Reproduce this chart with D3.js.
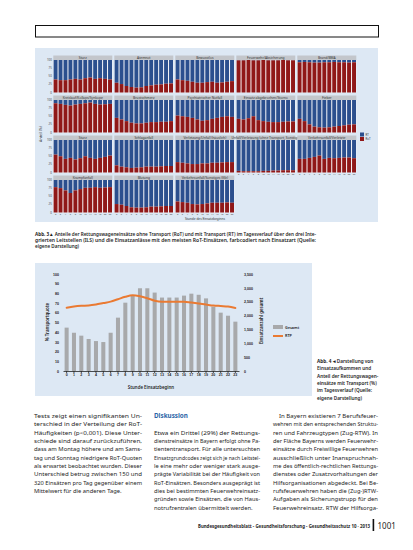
<!DOCTYPE html>
<html><head><meta charset="utf-8">
<script src="https://cdn.jsdelivr.net/npm/d3@7"></script>
<style>
html,body{margin:0;padding:0;background:#fff;}
svg{display:block;font-family:"Noto Sans","Open Sans",sans-serif;}
</style></head><body>
<svg id="page" width="413" height="550"></svg>
<script>
// ---------- DATA: Abb. 3 (facets) ----------
const facetLabels = [
  "Sturz", "Atemnot", "Bewusstlos", "Feuerwehr/Absicherung", "Brand/BMA",
  "Kreislauf/Kollaps/Synkope", "Brustschmerz", "Psychiatrischer Notfall", "Einsatz abgebrochen/Storno", "Fieber",
  "Sturz", "Schlaganfall", "Verletzung/Unfall (häuslich)", "Unfall/Verletzung (ohne Transport, Sonstige)", "Verkehrsunfall/Verletzte",
  "Krampfanfall", "Blutung", "Verkehrsunfall/Sonstiges (Kfz)"
];
const binHours = [0, 2, 4, 6, 8, 10, 12, 14, 16, 18, 20, 22];
const red01 = [0.40,0.38,0.38,0.40,0.42,0.40,0.44,0.46,0.42,0.44,0.42,0.40];
const red02 = [0.30,0.26,0.20,0.17,0.15,0.16,0.20,0.22,0.24,0.25,0.27,0.28];
const red03 = [0.40,0.38,0.36,0.33,0.30,0.30,0.32,0.33,0.30,0.31,0.33,0.35];
const red04 = [0.99,0.99,1.00,0.99,0.99,1.00,0.99,0.99,0.99,1.00,0.99,0.99];
const red05 = [0.93,0.94,0.93,0.92,0.92,0.93,0.93,0.94,0.93,0.93,0.92,0.93];
const red06 = [0.90,0.88,0.85,0.83,0.86,0.88,0.90,0.92,0.88,0.86,0.87,0.88];
const red07 = [0.45,0.40,0.35,0.30,0.28,0.28,0.30,0.32,0.32,0.33,0.33,0.35];
const red08 = [0.52,0.50,0.48,0.45,0.40,0.36,0.38,0.42,0.45,0.48,0.50,0.48];
const red09 = [0.42,0.40,0.44,0.50,0.38,0.35,0.33,0.32,0.32,0.33,0.34,0.34];
const red10 = [0.42,0.35,0.25,0.18,0.16,0.15,0.16,0.18,0.20,0.22,0.24,0.25];
const red11 = [0.55,0.50,0.42,0.45,0.40,0.44,0.50,0.45,0.42,0.45,0.48,0.52];
const red12 = [0.22,0.18,0.16,0.14,0.15,0.16,0.18,0.18,0.18,0.19,0.20,0.20];
const red13 = [0.32,0.30,0.28,0.26,0.26,0.28,0.28,0.30,0.30,0.31,0.32,0.32];
const red14 = [0.05,0.04,0.04,0.04,0.04,0.05,0.05,0.06,0.06,0.07,0.07,0.07];
const red15 = [0.42,0.42,0.45,0.48,0.52,0.42,0.45,0.44,0.45,0.46,0.46,0.44];
const red16 = [0.78,0.75,0.68,0.60,0.68,0.72,0.76,0.76,0.78,0.76,0.77,0.78];
const red17 = [0.26,0.24,0.20,0.16,0.15,0.15,0.16,0.18,0.18,0.19,0.20,0.20];
const red18 = [0.34,0.32,0.30,0.26,0.25,0.26,0.28,0.30,0.30,0.30,0.31,0.30];
const facetRed = [red01,red02,red03,red04,red05,red06,red07,red08,red09,red10,
                  red11,red12,red13,red14,red15,red16,red17,red18];
const facetYTicks = [0, 25, 50, 75, 100];
const facetLegend = ["RT", "RoT"];

// ---------- DATA: Abb. 4 (bars + line) ----------
const hours = [0,1,2,3,4,5,6,7,8,9,10,11,12,13,14,15,16,17,18,19,20,21,22,23];
const totalMissions = [1565,1380,1275,1155,1080,1045,1380,1925,2465,2740,2985,2985,
                       2830,2650,2650,2650,2720,2790,2750,2620,2320,2105,1995,1780];
const transportRate = [65.3,66.5,67.2,67.5,68.5,70.0,71.5,74.0,76.5,78.0,77.0,75.0,
                       72.5,71.5,71.5,71.5,71.5,70.5,69.5,68.5,67.5,67.0,66.5,65.0];
const leftTicks = [0,10,20,30,40,50,60,70,80,90,100];
const rightTicks = [0,500,1000,1500,2000,2500,3000,3500];
const legend4 = ["Gesamt", "RTP"];

// ---------- TEXT ----------
const caption3 = [
  ["Abb. 3 ▴ ", "Anteile der Rettungswageneinsätze ohne Transport (RoT) und mit Transport (RT) im Tagesverlauf über den drei Inte-"],
  ["", "grierten Leitstellen (ILS) und die Einsatzanlässe mit den meisten RoT-Einsätzen, farbcodiert nach Einsatzart (Quelle:"],
  ["", "eigene Darstellung)"]
];
const caption4 = [
  ["Abb. 4 ◂ ", "Darstellung von"],
  ["", "Einsatzaufkommen und"],
  ["", "Anteil der Rettungswagen-"],
  ["", "einsätze mit Transport (%)"],
  ["", "im Tagesverlauf (Quelle:"],
  ["", "eigene Darstellung)"]
];
const col1 = [
  "Tests zeigt einen signifikanten Un-",
  "terschied in der Verteilung der RoT-",
  "Häufigkeiten (p<0,001). Diese Unter-",
  "schiede sind darauf zurückzuführen,",
  "dass am Montag höhere und am Sams-",
  "tag und Sonntag niedrigere RoT-Quoten",
  "als erwartet beobachtet wurden. Dieser",
  "Unterschied betrug zwischen 150 und",
  "320 Einsätzen pro Tag gegenüber einem",
  "Mittelwert für die anderen Tage."
];
const heading2 = "Diskussion";
const col2 = [
  "Etwa ein Drittel (29%) der Rettungs-",
  "dienstreinsätze in Bayern erfolgt ohne Pa-",
  "tiententransport. Für alle untersuchten",
  "Einsatzgrundcodes zeigt sich je nach Leitstel-",
  "le eine mehr oder weniger stark ausge-",
  "prägte Variabilität bei der Häufigkeit von",
  "RoT-Einsätzen. Besonders ausgeprägt ist",
  "dies bei bestimmten Feuerwehreinsatz-",
  "gründen sowie Einsätzen, die von Haus-",
  "notrufzentralen übermittelt werden."
];
const col3 = [
  "In Bayern existieren 7 Berufsfeuer-",
  "wehren mit den entsprechenden Struktu-",
  "ren und Fahrzeugtypen (Zug-RTW). In",
  "der Fläche Bayerns werden Feuerwehr-",
  "einsätze durch Freiwillige Feuerwehren",
  "ausschließlich unter Inanspruchnah-",
  "me des öffentlich-rechtlichen Rettungs-",
  "dienstes oder Zusatzvorhaltungen der",
  "Hilfsorganisationen abgedeckt. Bei Be-",
  "rufsfeuerwehren haben die (Zug-)RTW-",
  "Aufgaben als Sicherungstrupp für den",
  "Feuerwehreinsatz. RTW der Hilfsorga-"
];
const footerText = "Bundesgesundheitsblatt - Gesundheitsforschung - Gesundheitsschutz 10 · 2013";
const pageNumber = "1001";

// ---------- DRAW ----------
const svg = d3.select("#page");
const RED = "#901818", BLUE = "#2b4f8e", BG = "#dde8f4", INK = "#1e1e1e";

// top box
svg.append("rect").attr("x",35.5).attr("y",25.5).attr("width",343).attr("height",11.5)
  .attr("fill","none").attr("stroke","#111").attr("stroke-width",1);

// facet background
svg.append("rect").attr("x",35).attr("y",48).attr("width",343).attr("height",174).attr("fill",BG);

const PW = 59, PH = 32.5, SH = 4.5;
const fx = d3.scaleBand().domain(binHours).range([0, PW]).paddingInner(0.2).paddingOuter(0.06);
const fy = d3.scaleLinear().domain([0, 1]).range([PH, 0]);
const bottomRowOfCol = c => { let r = 0; facetRed.forEach((_, i) => { if (i % 5 === c) r = Math.floor(i / 5); }); return r; };

facetRed.forEach((vals, i) => {
  const r = Math.floor(i / 5), c = i % 5;
  const x0 = 53.3 + 61 * c, y0 = 55.5 + 40 * r;
  const g = svg.append("g").attr("transform", `translate(${x0},${y0})`);
  g.append("rect").attr("width", PW).attr("height", SH).attr("fill", "#c3c6cb");
  g.append("text").attr("x", PW / 2).attr("y", SH - 1.1).attr("text-anchor", "middle")
    .attr("font-size", 3.3).attr("fill", "#333").text(facetLabels[i]);
  const p = g.append("g").attr("transform", `translate(0,${SH})`);
  p.append("rect").attr("width", PW).attr("height", PH).attr("fill", "#fbfbfd");
  p.selectAll("rect.b").data(vals).enter().append("rect").attr("class","b")
    .attr("x", (d, k) => fx(binHours[k])).attr("width", fx.bandwidth())
    .attr("y", 0).attr("height", d => fy(d)).attr("fill", BLUE);
  p.selectAll("rect.r").data(vals).enter().append("rect").attr("class","r")
    .attr("x", (d, k) => fx(binHours[k])).attr("width", fx.bandwidth())
    .attr("y", d => fy(d)).attr("height", d => PH - fy(d)).attr("fill", RED);
  if (c === 0) {
    facetYTicks.forEach(t => {
      p.append("text").attr("x", -1.5).attr("y", fy(t / 100) + 1).attr("text-anchor", "end")
        .attr("font-size", 2.8).attr("fill", "#444").text(t);
    });
  }
  if (r === bottomRowOfCol(c)) {
    binHours.forEach(h => {
      p.append("text").attr("x", fx(h) + fx.bandwidth() / 2).attr("y", PH + 2.6)
        .attr("text-anchor", "middle").attr("font-size", 2.3).attr("fill", "#444").text(h);
    });
  }
});
svg.append("text").attr("transform", "translate(42,134) rotate(-90)").attr("text-anchor", "middle")
  .attr("font-size", 3.6).attr("fill", "#333").text("Anteil (%)");
svg.append("text").attr("x", 205).attr("y", 220.3).attr("text-anchor", "middle")
  .attr("font-size", 3.2).attr("fill", "#333").text("Stunde des Einsatzbeginns");
[BLUE, RED].forEach((col, k) => {
  svg.append("rect").attr("x", 360).attr("y", 132.5 + k * 4.5).attr("width", 4).attr("height", 4).attr("fill", col);
  svg.append("text").attr("x", 365.5).attr("y", 135.6 + k * 4.5).attr("font-size", 2.8).attr("fill", "#333").text(facetLegend[k]);
});

function captionLines(lines, x, y0, lh, size, width, justifyIdx) {
  lines.forEach((l, i) => {
    const t = svg.append("text").attr("x", x).attr("y", y0 + i * lh).attr("font-size", size).attr("fill", INK);
    if (l[0]) t.append("tspan").attr("font-weight", 700).text(l[0]);
    t.append("tspan").attr("font-weight", 600).text(l[1]);
    if (justifyIdx.includes(i)) t.attr("textLength", width).attr("lengthAdjust", "spacingAndGlyphs");
  });
}
captionLines(caption3, 35, 235.8, 5.9, 4.6, 281, [0, 1]);

// ---------- Abb. 4 ----------
svg.append("rect").attr("x", 35).attr("y", 263).attr("width", 277).attr("height", 133).attr("fill", BG);
const x4 = d3.scaleBand().domain(hours).range([63, 239]).paddingInner(0.45).paddingOuter(0.22);
const yL = d3.scaleLinear().domain([0, 100]).range([371, 274]);
const yR = d3.scaleLinear().domain([0, 3500]).range([371, 274]);

svg.append("g").selectAll("rect").data(totalMissions).enter().append("rect")
  .attr("x", (d, i) => x4(hours[i])).attr("width", x4.bandwidth())
  .attr("y", d => yR(d)).attr("height", d => yR(0) - yR(d)).attr("fill", "#a8a9ab");

const line = d3.line().x((d, i) => x4(hours[i]) + x4.bandwidth() / 2).y(d => yL(d)).curve(d3.curveMonotoneX);
svg.append("path").datum(transportRate).attr("d", line).attr("fill", "none")
  .attr("stroke", "#ea7a32").attr("stroke-width", 2).attr("stroke-linecap", "round");

const ax = svg.append("g").attr("transform", "translate(0,371)")
  .call(d3.axisBottom(x4).tickSize(2).tickSizeOuter(0));
ax.select(".domain").attr("stroke", "#222").attr("stroke-width", 0.8);
ax.selectAll(".tick line").attr("stroke", "#222").attr("stroke-width", 0.8);
ax.selectAll("text").attr("font-size", 3.6).attr("font-weight", 700).attr("fill", INK).attr("dy", "0.6em").attr("y", 3);

const aL = svg.append("g").attr("transform", "translate(62,0)")
  .call(d3.axisLeft(yL).tickValues(leftTicks).tickSize(0));
aL.select(".domain").remove();
aL.selectAll("text").attr("font-size", 3.6).attr("font-weight", 700).attr("fill", INK);

const aR = svg.append("g").attr("transform", "translate(241,0)")
  .call(d3.axisRight(yR).tickValues(rightTicks).tickSize(0));
aR.select(".domain").remove();
aR.selectAll("text").attr("font-size", 3.6).attr("font-weight", 700).attr("fill", INK);

svg.append("text").attr("transform", "translate(49,322) rotate(-90)").attr("text-anchor", "middle")
  .attr("font-size", 4.4).attr("font-weight", 600).attr("fill", INK).text("% Transportquote");
svg.append("text").attr("transform", "translate(263,321) rotate(-90)").attr("text-anchor", "middle")
  .attr("font-size", 4.4).attr("font-weight", 600).attr("fill", INK).text("Einsatzanzahl gesamt");
svg.append("text").attr("x", 151).attr("y", 389).attr("text-anchor", "middle")
  .attr("font-size", 4.4).attr("font-weight", 600).attr("fill", INK).text("Stunde Einsatzbeginn");

svg.append("rect").attr("x", 273).attr("y", 325).attr("width", 10).attr("height", 4).attr("fill", "#a8a9ab");
svg.append("text").attr("x", 285).attr("y", 328.8).attr("font-size", 3.8).attr("font-weight", 600).attr("fill", INK).text(legend4[0]);
svg.append("line").attr("x1", 273).attr("x2", 283).attr("y1", 336).attr("y2", 336)
  .attr("stroke", "#ea7a32").attr("stroke-width", 2);
svg.append("text").attr("x", 285).attr("y", 337.4).attr("font-size", 3.8).attr("font-weight", 600).attr("fill", INK).text(legend4[1]);

captionLines(caption4, 317, 363, 7.3, 4.7, 58, []);

// ---------- body text ----------
function bodyLines(lines, x, y0, lh, width, lastNoJustify, indentFirst) {
  lines.forEach((l, i) => {
    const ind = (i === 0 && indentFirst) ? indentFirst : 0;
    const t = svg.append("text").attr("x", x + ind).attr("y", y0 + i * lh)
      .attr("font-size", 5.8).attr("fill", INK).text(l);
    if (!(lastNoJustify && i === lines.length - 1)) t.attr("textLength", width - ind).attr("lengthAdjust", "spacingAndGlyphs");
  });
}
bodyLines(col1, 34, 418, 8.33, 108, true, 0);
svg.append("text").attr("x", 154).attr("y", 418.2).attr("font-size", 6.3).attr("font-weight", 700)
  .attr("fill", "#2a64a6").text(heading2);
bodyLines(col2, 154, 434.8, 8.33, 106, true, 0);
bodyLines(col3, 273, 418, 8.33, 105, false, 6);

svg.append("text").attr("x", 370).attr("y", 527.6).attr("text-anchor", "end").attr("font-size", 4.3)
  .attr("font-weight", 700).attr("fill", INK).attr("textLength", 172).attr("lengthAdjust", "spacingAndGlyphs").text(footerText);
svg.append("rect").attr("x", 372.6).attr("y", 519).attr("width", 1.6).attr("height", 12).attr("fill", "#111");
svg.append("text").attr("x", 377.5).attr("y", 529.2).attr("font-size", 8).attr("fill", INK).text(pageNumber);
</script>
</body></html>
